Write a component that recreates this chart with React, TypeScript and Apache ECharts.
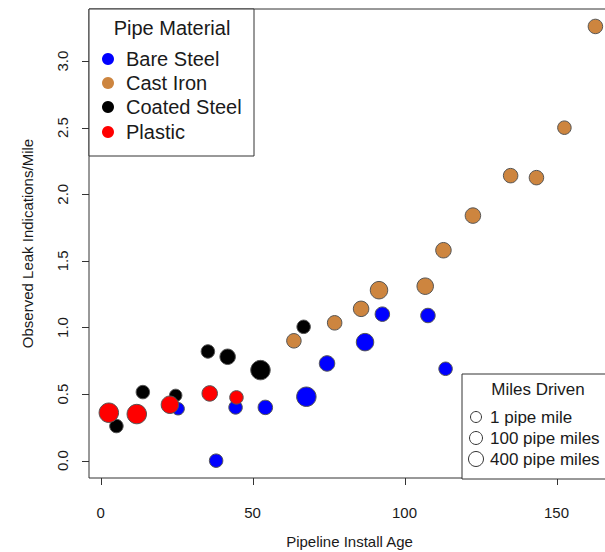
import React, { useEffect, useRef } from "react";
import * as echarts from "echarts";

// Pipe material groups: install age (years), observed leaks per mile, miles driven
const ageBare = [38.0, 25.5, 44.4, 54.2, 67.7, 74.5, 87.0, 92.7, 107.7, 113.5];
const leakBare = [0.0, 0.39, 0.4, 0.4, 0.48, 0.73, 0.89, 1.1, 1.09, 0.69];
const milesBare = [64, 36, 64, 100, 400, 144, 256, 100, 100, 64];

const ageCast = [63.6, 77.0, 85.7, 91.6, 106.8, 112.8, 122.5, 134.9, 143.4, 152.6, 162.8];
const leakCast = [0.9, 1.035, 1.14, 1.28, 1.31, 1.58, 1.84, 2.14, 2.125, 2.5, 3.26];
const milesCast = [100, 100, 144, 256, 196, 144, 144, 100, 100, 64, 100];

const ageCoated = [5.2, 13.9, 24.7, 35.3, 41.8, 52.6, 66.8];
const leakCoated = [0.26, 0.515, 0.49, 0.82, 0.78, 0.68, 1.005];
const milesCoated = [64, 64, 36, 64, 144, 400, 64];

const agePlastic = [2.7, 11.9, 22.8, 35.9, 44.7];
const leakPlastic = [0.36, 0.35, 0.42, 0.505, 0.475];
const milesPlastic = [400, 400, 256, 144, 64];

const materials = ["Bare Steel", "Cast Iron", "Coated Steel", "Plastic"];
const sizeLegend = ["1 pipe mile", "100 pipe miles", "400 pipe miles"];
const xTicks = [0, 50, 100, 150];
const yTicks = [0, 0.5, 1, 1.5, 2, 2.5, 3];

const FONT = "Liberation Sans, Arial, Helvetica, sans-serif";
const COLORS: Record<string, string> = {
  "Bare Steel": "#0000ff",
  "Cast Iron": "#cd853f",
  "Coated Steel": "#000000",
  Plastic: "#ff0000",
};

const GRID = { left: 89, top: 9, width: 521, height: 469 };
const TICK_LEN = 7;

const zip = (a: number[], b: number[], c: number[]) => a.map((v, i) => [v, b[i], c[i]]);

export default function App() {
  const ref = useRef<HTMLDivElement>(null);
  useEffect(() => {
    if (!ref.current) return;
    const chart = echarts.init(ref.current, null, { renderer: "svg" });
    const mkSeries = (name: string, data: number[][]) => ({
      name,
      type: "scatter",
      data,
      symbol: "circle",
      symbolSize: (v: number[]) => 9.5 + Math.sqrt(v[2]) / 2,
      itemStyle: { color: COLORS[name], borderColor: "#555", borderWidth: 1, opacity: 1 },
      emphasis: { disabled: true },
    });

    chart.setOption({
      animation: false,
      backgroundColor: "#fff",
      grid: {
        ...GRID,
        outerBoundsMode: "none",
        containLabel: false,
        show: false,
      },
      xAxis: {
        type: "value",
        min: -3.82,
        max: 167.6,
        name: "Pipeline Install Age",
        nameLocation: "middle",
        nameGap: 56,
        nameTextStyle: { fontFamily: FONT, fontSize: 15, color: "#1a1a1a" },
        axisLine: { show: false, onZero: false },
        axisTick: { show: false },
        axisLabel: { customValues: xTicks, fontFamily: FONT, fontSize: 15, color: "#1a1a1a", margin: 27 },
        splitLine: { show: false },
      },
      yAxis: {
        type: "value",
        min: -0.13,
        max: 3.391,
        name: "Observed Leak Indications/Mile",
        nameLocation: "middle",
        nameGap: 54,
        nameTextStyle: { fontFamily: FONT, fontSize: 15, color: "#1a1a1a" },
        axisLine: { show: false, onZero: false },
        axisTick: { show: false },
        axisLabel: {
          customValues: yTicks,
          rotate: 90,
          fontFamily: FONT,
          fontSize: 15,
          color: "#1a1a1a",
          margin: 19,
          formatter: (v: number) => v.toFixed(1),
        },
        splitLine: { show: false },
      },
      series: [
        mkSeries("Coated Steel", zip(ageCoated, leakCoated, milesCoated)),
        mkSeries("Bare Steel", zip(ageBare, leakBare, milesBare)),
        mkSeries("Cast Iron", zip(ageCast, leakCast, milesCast)),
        mkSeries("Plastic", zip(agePlastic, leakPlastic, milesPlastic)),
      ],
    });

    const bottom = GRID.top + GRID.height;
    const left = GRID.left;
    const graphics: any[] = [
      {
        type: "rect",
        z: 99,
        silent: true,
        shape: { x: GRID.left, y: GRID.top, width: GRID.width, height: GRID.height },
        style: { fill: "none", stroke: "#333", lineWidth: 1 },
      },
    ];
    // axis ticks positioned through the chart's own scales
    xTicks.forEach((v) => {
      const px = Math.round(chart.convertToPixel({ xAxisIndex: 0 }, v) as number) + 0.5;
      graphics.push({
        type: "line",
        z: 99,
        silent: true,
        shape: { x1: px, y1: bottom, x2: px, y2: bottom + TICK_LEN },
        style: { stroke: "#333", lineWidth: 1 },
      });
    });
    yTicks.forEach((v) => {
      const py = Math.round(chart.convertToPixel({ yAxisIndex: 0 }, v) as number) + 0.5;
      graphics.push({
        type: "line",
        z: 99,
        silent: true,
        shape: { x1: left, y1: py, x2: left - TICK_LEN, y2: py },
        style: { stroke: "#333", lineWidth: 1 },
      });
    });

    const legendRows = [59, 83, 107, 132];
    const sizeRows = [417, 438, 459];
    const sizeR = [5.5, 6.5, 7.5];
    graphics.push(
      {
        type: "rect",
        z: 100,
        shape: { x: 89, y: 9, width: 165, height: 147 },
        style: { fill: "#fff", stroke: "#333", lineWidth: 1 },
      },
      {
        type: "text",
        z: 101,
        x: 172,
        y: 28,
        style: { text: "Pipe Material", font: `20px ${FONT}`, fill: "#1a1a1a", align: "center", verticalAlign: "middle" },
      },
      {
        type: "rect",
        z: 100,
        shape: { x: 462, y: 374, width: 200, height: 105 },
        style: { fill: "#fff", stroke: "#333", lineWidth: 1 },
      },
      {
        type: "text",
        z: 101,
        x: 538,
        y: 389,
        style: { text: "Miles Driven", font: `17px ${FONT}`, fill: "#1a1a1a", align: "center", verticalAlign: "middle" },
      }
    );
    materials.forEach((m, i) => {
      graphics.push({
        type: "circle",
        z: 101,
        shape: { cx: 108, cy: legendRows[i], r: 6 },
        style: { fill: COLORS[m] },
      });
      graphics.push({
        type: "text",
        z: 101,
        x: 126,
        y: legendRows[i],
        style: { text: m, font: `20px ${FONT}`, fill: "#1a1a1a", verticalAlign: "middle" },
      });
    });
    sizeLegend.forEach((s, i) => {
      graphics.push({
        type: "circle",
        z: 101,
        shape: { cx: 476, cy: sizeRows[i], r: sizeR[i] },
        style: { fill: "none", stroke: "#333", lineWidth: 1 },
      });
      graphics.push({
        type: "text",
        z: 101,
        x: 490,
        y: sizeRows[i],
        style: { text: s, font: `17px ${FONT}`, fill: "#1a1a1a", verticalAlign: "middle" },
      });
    });

    chart.setOption({ graphic: graphics });
    return () => chart.dispose();
  }, []);
  return (
    <div
      ref={ref}
      style={{ position: "absolute", left: 0, top: 0, width: 605, height: 552 }}
    />
  );
}
